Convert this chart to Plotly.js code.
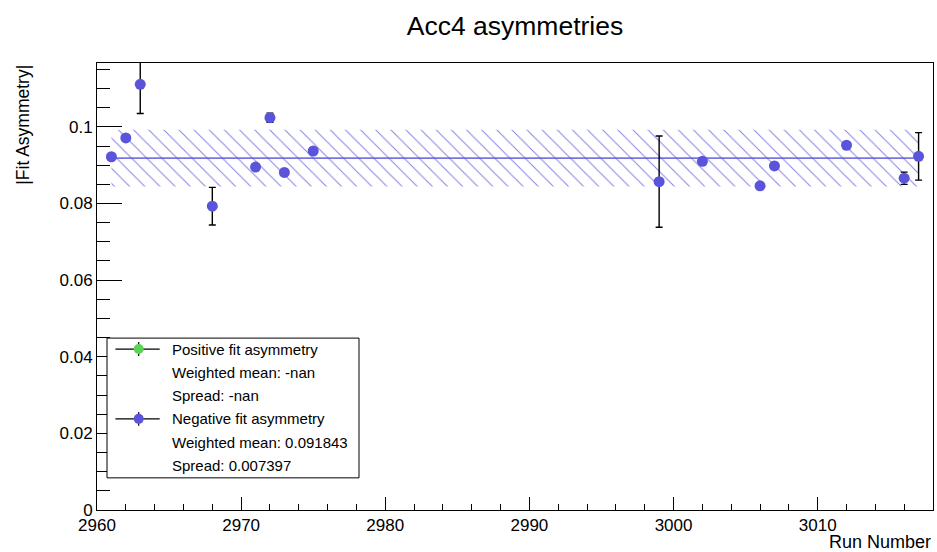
<!DOCTYPE html>
<html>
<head>
<meta charset="utf-8">
<script src="https://cdn.plot.ly/plotly-3.0.1.min.js"></script>
<style>
  html, body { margin: 0; padding: 0; background: #fff; }
  #chart { width: 937px; height: 552px; }
</style>
</head>
<body>
<div id="chart"></div>
<script>
// ---- data ----
const runs      = [2961, 2962, 2963, 2968, 2971, 2972, 2973, 2975, 2999, 3002, 3006, 3007, 3012, 3016, 3017];
const negAsym   = [0.0922, 0.0971, 0.1111, 0.0793, 0.0895, 0.1024, 0.0881, 0.0937, 0.0857, 0.0910, 0.0846, 0.0898, 0.0952, 0.0866, 0.0923];
const negErr    = [0.0008, 0.0008, 0.0076, 0.0049, 0.0008, 0.0012, 0.0008, 0.0008, 0.0119, 0.0008, 0.0008, 0.0008, 0.0008, 0.0016, 0.0062];
const meanVal   = 0.091843;
const spreadVal = 0.007397;
const legendLines = [
  "Positive fit asymmetry",
  "Weighted mean: -nan",
  "Spread: -nan",
  "Negative fit asymmetry",
  "Weighted mean: 0.091843",
  "Spread: 0.007397"
];
const titleText  = "Acc4 asymmetries";
const xTitleText = "Run Number";
const yTitleText = "|Fit Asymmetry|";

// ---- layout geometry ----
const W = 937, H = 552;
const M = {l: 97.3, r: 3.7, t: 62.7, b: 41.5};
const PW = W - M.l - M.r, PH = H - M.t - M.b;
const px2x = p => (p - M.l) / PW;
const px2y = p => (H - M.b - p) / PH;

const BLUE = 'rgb(89,84,217)';
const GREEN = 'rgb(89,212,84)';
const FONT = 'Liberation Sans, Arial, Helvetica, sans-serif';

const xFirst = runs[0], xLast = runs[runs.length - 1];

const traces = [
  // lower edge of spread band (invisible)
  {
    x: [xFirst, xLast], y: [meanVal - spreadVal, meanVal - spreadVal],
    mode: 'lines', line: {width: 0, color: 'rgba(0,0,0,0)'},
    hoverinfo: 'skip', showlegend: false
  },
  // upper edge with hatched fill
  {
    x: [xFirst, xLast], y: [meanVal + spreadVal, meanVal + spreadVal],
    mode: 'lines', line: {width: 0, color: 'rgba(0,0,0,0)'},
    fill: 'tonexty', fillcolor: 'rgba(0,0,0,0)',
    fillpattern: {shape: '\\', fgcolor: 'rgb(100,96,222)', fgopacity: 0.8, bgcolor: 'rgba(0,0,0,0)', size: 10.7, solidity: 0.09},
    hoverinfo: 'skip', showlegend: false
  },
  // weighted mean line
  {
    x: [xFirst, xLast], y: [meanVal, meanVal],
    mode: 'lines', line: {width: 1.6, color: 'rgba(89,84,217,0.8)'},
    hoverinfo: 'skip', showlegend: false
  },
  // negative fit asymmetry points
  {
    x: runs, y: negAsym,
    mode: 'markers', type: 'scatter',
    marker: {color: BLUE, size: 11, symbol: 'circle', line: {width: 0}},
    error_y: {type: 'data', array: negErr, visible: true, color: '#000', thickness: 1.4, width: 3.5},
    name: legendLines[3], showlegend: false
  }
];

// ---- manual ROOT-style legend ----
const box = {x0: 107.3, x1: 359.3, y0: 338.3, y1: 478.3};
const rowY0 = 349.3, rowStep = 23.3;
const shapes = [
  {type: 'rect', xref: 'paper', yref: 'paper',
   x0: px2x(box.x0), x1: px2x(box.x1), y0: px2y(box.y1), y1: px2y(box.y0),
   line: {color: '#000', width: 1}, fillcolor: '#fff', layer: 'above'}
];
const annotations = [];
const markerRows = [{row: 0, color: GREEN}, {row: 3, color: BLUE}];
markerRows.forEach(m => {
  const yy = rowY0 + m.row * rowStep;
  shapes.push({type: 'line', xref: 'paper', yref: 'paper',
    x0: px2x(115.7), x1: px2x(160), y0: px2y(yy), y1: px2y(yy),
    line: {color: '#000', width: 1.2}, layer: 'above'});
  shapes.push({type: 'line', xref: 'paper', yref: 'paper',
    x0: px2x(139), x1: px2x(139), y0: px2y(yy - 7), y1: px2y(yy + 7),
    line: {color: '#000', width: 1.2}, layer: 'above'});
  shapes.push({type: 'circle', xref: 'paper', yref: 'paper',
    xsizemode: 'pixel', ysizemode: 'pixel', xanchor: px2x(139), yanchor: px2y(yy),
    x0: -5, x1: 5, y0: -5, y1: 5,
    fillcolor: m.color, line: {width: 0}, layer: 'above'});
});
legendLines.forEach((t, i) => {
  annotations.push({xref: 'paper', yref: 'paper', x: px2x(170), y: px2y(rowY0 + i * rowStep),
    xanchor: 'left', yanchor: 'middle', text: t, showarrow: false,
    font: {family: FONT, size: 15, color: '#000'}});
});

// axis titles (ROOT style: right/top aligned)
annotations.push({xref: 'paper', yref: 'paper', x: 1, y: px2y(543),
  xanchor: 'right', yanchor: 'middle', text: xTitleText, showarrow: false,
  font: {family: FONT, size: 18, color: '#000'}});
annotations.push({xref: 'paper', yref: 'paper', x: px2x(23), y: 1,
  xanchor: 'center', yanchor: 'top', text: yTitleText, textangle: -90, showarrow: false,
  font: {family: FONT, size: 17.5, color: '#000'}});

const layout = {
  width: W, height: H,
  margin: M,
  paper_bgcolor: '#fff', plot_bgcolor: '#fff',
  showlegend: false,
  font: {family: FONT, color: '#000'},
  title: {text: titleText, font: {family: FONT, size: 26.5, color: '#000'},
          xref: 'paper', x: 0.5, xanchor: 'center', yref: 'container', y: 1 - 26 / H, yanchor: 'middle'},
  xaxis: {
    range: [2960, 3018], showgrid: false, zeroline: false,
    showline: true, linecolor: '#000', linewidth: 1, mirror: true,
    ticks: 'inside', ticklen: 13, tickwidth: 1, tickcolor: '#000',
    tick0: 2960, dtick: 10,
    minor: {ticks: 'inside', ticklen: 6.5, tick0: 2960, dtick: 2, tickcolor: '#000', tickwidth: 1, showgrid: false},
    tickfont: {family: FONT, size: 17, color: '#000'}
  },
  yaxis: {
    range: [0, 0.11667], showgrid: false, zeroline: false,
    showline: true, linecolor: '#000', linewidth: 1, mirror: true,
    ticks: 'inside', ticklen: 25, tickwidth: 1, tickcolor: '#000',
    tick0: 0, dtick: 0.02,
    minor: {ticks: 'inside', ticklen: 12.5, tick0: 0, dtick: 0.005, tickcolor: '#000', tickwidth: 1, showgrid: false},
    tickfont: {family: FONT, size: 17, color: '#000'}
  },
  shapes: shapes,
  annotations: annotations
};

Plotly.newPlot('chart', traces, layout, {displayModeBar: false, staticPlot: true});
</script>
</body>
</html>
